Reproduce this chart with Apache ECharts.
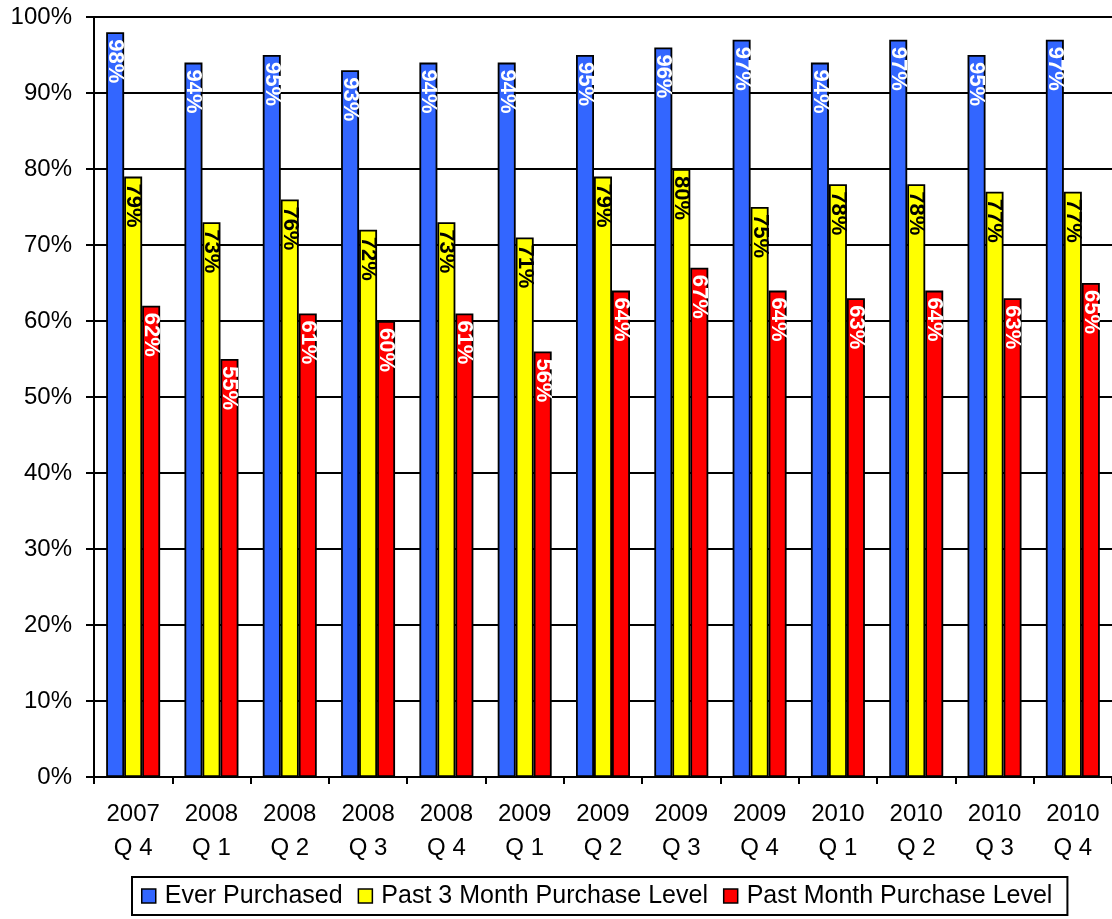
<!DOCTYPE html>
<html>
<head>
<meta charset="utf-8">
<script src="https://cdn.jsdelivr.net/npm/echarts@6/dist/echarts.min.js"></script>
<style>
  html, body { margin: 0; padding: 0; background: #fff; }
  #chart { width: 1112px; height: 919px; }
</style>
</head>
<body>
<div id="chart"></div>
<script>
// Quarterly purchase levels (percent)
const quarters = ['2007\nQ 4', '2008\nQ 1', '2008\nQ 2', '2008\nQ 3', '2008\nQ 4',
                  '2009\nQ 1', '2009\nQ 2', '2009\nQ 3', '2009\nQ 4',
                  '2010\nQ 1', '2010\nQ 2', '2010\nQ 3', '2010\nQ 4'];
const everPurchased = [98, 94, 95, 93, 94, 94, 95, 96, 97, 94, 97, 95, 97];
const past3Month    = [79, 73, 76, 72, 73, 71, 79, 80, 75, 78, 78, 77, 77];
const pastMonth     = [62, 55, 61, 60, 61, 56, 64, 67, 64, 63, 64, 63, 65];
const seriesNames = ['Ever Purchased', 'Past 3 Month Purchase Level', 'Past Month Purchase Level'];

const FONT = '"Liberation Sans", Arial, sans-serif';

function barSeries(name, data, fill, labelColor) {
  return {
    name: name,
    type: 'bar',
    data: data,
    barWidth: 18,
    barGap: '0%',
    itemStyle: { color: fill, borderColor: '#000', borderWidth: 1.8 },
    label: {
      show: true,
      position: 'insideTop',
      distance: 7,
      rotate: -90,
      align: 'left',
      verticalAlign: 'middle',
      formatter: '{c}%',
      color: labelColor,
      fontFamily: FONT,
      fontWeight: 'bold',
      fontSize: 22
    }
  };
}

const chart = echarts.init(document.getElementById('chart'), null, { renderer: 'canvas' });
chart.setOption({
  backgroundColor: '#fff',
  animation: false,
  textStyle: { fontFamily: FONT },
  grid: { left: 94, right: -9, top: 17, bottom: 142 },
  legend: {
    data: seriesNames,
    left: 132,
    top: 877,
    orient: 'horizontal',
    itemWidth: 14,
    itemHeight: 14,
    itemGap: 15,
    icon: 'rect',
    padding: [5, 15, 5, 9],
    borderColor: '#000',
    borderWidth: 2,
    itemStyle: { borderColor: '#000', borderWidth: 1.5 },
    textStyle: { color: '#000', fontSize: 25, fontFamily: FONT, lineHeight: 28, padding: [0, 0, 0, 4] }
  },
  xAxis: {
    type: 'category',
    data: quarters,
    axisLine: { lineStyle: { color: '#000', width: 2 } },
    axisTick: { show: true, length: 7, lineStyle: { color: '#000', width: 2 } },
    axisLabel: { color: '#000', fontSize: 24, fontFamily: FONT, lineHeight: 34, margin: 20, interval: 0 }
  },
  yAxis: {
    type: 'value',
    min: 0,
    max: 100,
    interval: 10,
    axisLine: { show: true, lineStyle: { color: '#000', width: 2 } },
    axisTick: { show: true, length: 8, lineStyle: { color: '#000', width: 2 } },
    axisLabel: { color: '#000', fontSize: 24, fontFamily: FONT, margin: 22, formatter: '{value}%' },
    splitLine: { show: true, lineStyle: { color: '#000', width: 2 } }
  },
  series: [
    barSeries(seriesNames[0], everPurchased, '#3366FF', '#fff'),
    barSeries(seriesNames[1], past3Month, '#FFFF00', '#000'),
    barSeries(seriesNames[2], pastMonth, '#FF0000', '#fff')
  ]
});
</script>
</body>
</html>
